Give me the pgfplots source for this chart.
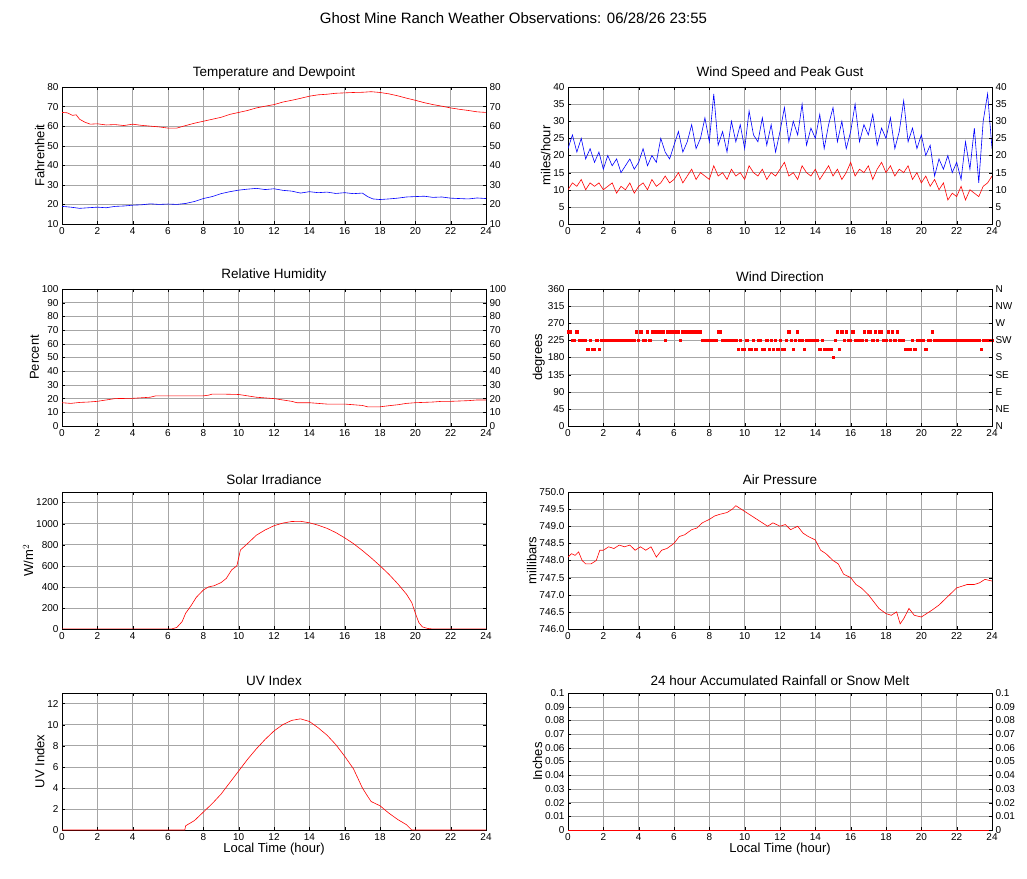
\documentclass[border=0pt]{standalone}
\usepackage{pgfplots}
\pgfplotsset{compat=1.18}
\usepackage{fontspec}
\setmainfont{Liberation Sans}
\begin{document}
\begin{tikzpicture}
\path[use as bounding box] (0pt,0pt) rectangle (1027pt,878pt);
\node[font=\fontsize{15}{18}\selectfont] at (513.5pt,860pt) {Ghost Mine Ranch Weather Observations: 06/28/26 23:55};
\pgfplotsset{
 /pgf/number format/assume math mode=true,
 /pgf/number format/1000 sep={},
 panel/.style={scale only axis, width=424pt, height=137pt, anchor=south west,
  xmin=0,xmax=24, xtick={0,2,...,24}, grid=major, major grid style={gray!70},
  tick label style={font=\fontsize{10}{12}\selectfont}, tick style={black}, major tick length=3pt,
  title style={font=\fontsize{13.5}{16}\selectfont, yshift=-2pt},
  ylabel style={font=\fontsize{13}{15}\selectfont, yshift=-4pt},
  xlabel style={font=\fontsize{13}{15}\selectfont, yshift=4pt},
  every axis plot/.append style={line width=0.6pt}, axis line style={black}},
 rpanel/.style={scale only axis, width=424pt, height=137pt, anchor=south west,
  xmin=0,xmax=24, axis y line*=right, axis x line=none, tick style={black},
  tick label style={font=\fontsize{10}{12}\selectfont}, major tick length=3pt}
}
% Temperature
\begin{axis}[panel, at={(62pt,654pt)}, ymin=10,ymax=80, ytick={10,20,...,80}, title={Temperature and Dewpoint}, ylabel={Fahrenheit}]
\addplot[red] coordinates {(0,67)(0.3,66.8)(0.6,65.5)(0.8,65.8)(1,63.5)(1.3,62)(1.6,61)(2,61.2)(2.5,60.6)(3,60.8)(3.5,60.3)(4,61)(4.5,60.4)(5,60)(5.5,59.6)(6,59)(6.5,59)(7,60.3)(7.5,61.5)(8,62.5)(8.5,63.5)(9,64.5)(9.5,66)(10,67)(10.5,68)(11,69.3)(11.5,70.2)(12,71)(12.5,72.3)(13,73.2)(13.5,74.2)(14,75.3)(14.5,76)(15,76.3)(15.5,76.8)(16,77)(16.5,77.2)(17,77.3)(17.5,77.6)(18,77.2)(18.5,76.5)(19,75.5)(19.5,74.3)(20,73.2)(20.5,72)(21,71)(21.5,70.2)(22,69.3)(22.5,68.6)(23,68)(23.5,67.3)(24,67)};
\addplot[blue] coordinates {(0,19)(0.5,18.6)(1,18)(1.5,18.3)(2,18.6)(2.5,18.3)(3,19)(3.5,19.2)(4,19.6)(4.5,19.8)(5,20.3)(5.5,20)(6,20.2)(6.5,20)(7,20.5)(7.5,21.5)(8,23)(8.5,24)(9,25.5)(9.5,26.5)(10,27.3)(10.5,27.8)(11,28.2)(11.5,27.6)(12,28)(12.5,27.2)(13,26.8)(13.5,25.8)(14,26.5)(14.5,26)(15,26.3)(15.5,25.6)(16,26)(16.5,25.5)(17,25.8)(17.3,24)(17.6,22.8)(18,22.5)(18.5,22.8)(19,23.2)(19.5,23.8)(20,24)(20.5,24.2)(21,23.6)(21.5,23.8)(22,23.2)(22.5,23)(23,22.8)(23.5,23.3)(24,23)};
\end{axis}
\begin{axis}[rpanel, at={(62pt,654pt)}, ymin=10,ymax=80, ytick={10,20,...,80}]
\end{axis}
% Wind
\begin{axis}[panel, at={(568pt,654pt)}, ymin=0,ymax=40, ytick={0,5,...,40}, title={Wind Speed and Peak Gust}, ylabel={miles/hour}]
\addplot[blue] table[x expr=\coordindex/4, y index=0, header=false] {
22
26
21
25
19
22
18
21
16
20
17
19
15
17
19
16
18
22
17
20
18
25
21
19
23
27
21
24
29
22
25
31
24
38
23
27
21
30
24
29
22
33
26
24
31
23
29
21
27
34
24
30
26
35
23
28
25
32
22
29
34
24
30
22
27
35
24
29
26
32
23
28
25
31
22
27
36
24
28
22
26
20
23
14
19
16
20
15
18
13
24
16
28
12
30
38
22
};
\addplot[red] table[x expr=\coordindex/4, y index=0, header=false] {
10
12
11
13
10
12
11
12
10
11
12
9
11
10
12
9
11
12
10
13
11
12
14
12
13
15
12
14
16
13
15
14
13
17
14
15
13
16
14
15
13
17
15
14
16
13
15
14
16
18
14
15
13
17
15
14
16
13
15
17
14
16
13
15
18
14
16
15
17
13
16
18
15
17
14
16
15
17
13
15
12
14
11
13
10
12
7
9
8
11
7
10
9
8
11
12
14
};
\end{axis}
\begin{axis}[rpanel, at={(568pt,654pt)}, ymin=0,ymax=40, ytick={0,5,...,40}]
\end{axis}
% Humidity
\begin{axis}[panel, at={(62pt,452pt)}, ymin=0,ymax=100, ytick={0,10,...,100}, title={Relative Humidity}, ylabel={Percent}]
\addplot[red] coordinates {(0,17)(0.5,16.5)(1,17.2)(1.5,17.5)(2,18)(2.5,19)(3,20)(4,20.2)(5,21)(5.3,22)(6,22)(7,22)(8,22)(8.3,22.5)(8.5,23.3)(9,23.3)(10,23)(10.5,22)(11,21)(11.5,20.5)(12,20)(12.5,19)(13,18)(13.3,17)(14,17)(14.5,16.5)(15,16)(16,16)(16.5,15.5)(17,15)(17.3,14)(18,14)(18.5,14.8)(19,15.5)(19.5,16.5)(20,17)(21,17.5)(21.5,18)(22,18)(23,18.5)(23.5,19)(24,19)};
\end{axis}
\begin{axis}[rpanel, at={(62pt,452pt)}, ymin=0,ymax=100, ytick={0,10,...,100}]
\end{axis}
% Wind direction
\begin{axis}[panel, at={(568pt,452pt)}, ymin=0,ymax=360, ytick={0,45,...,360}, title={Wind Direction}, ylabel={degrees}]
\addplot[red, only marks, mark=square*, mark size=1.1pt] table[x expr=\coordindex/8, y expr=225+22.5*\thisrowno{0}, header=false] {
1
1
0
0
1
0
0
0
0
-1
0
-1
-1
0
-1
0
0
0
0
0
0
0
0
0
0
0
0
0
0
0
0
1
0
1
0
0
1
0
1
1
1
1
1
1
0
1
1
1
1
1
1
0
1
1
1
1
1
1
1
1
1
0
0
0
0
0
0
0
1
1
0
0
0
0
0
0
0
-1
0
-1
-1
0
-1
-1
0
-1
0
0
-1
-1
0
-1
0
-1
0
-1
0
-1
-1
0
1
0
-1
0
1
0
0
-1
0
0
0
0
0
0
-1
0
-1
-1
-1
-1
-2
0
1
-1
1
0
1
0
0
1
0
0
0
0
1
0
1
1
0
1
0
1
1
0
0
1
0
1
0
1
0
0
0
-1
-1
-1
0
-1
0
0
0
0
-1
0
0
1
0
0
0
0
0
0
0
0
0
0
0
0
0
0
0
0
0
0
0
0
0
-1
0
0
0
0
0
};
\end{axis}
\begin{axis}[rpanel, at={(568pt,452pt)}, ymin=0,ymax=360, ytick={0,45,...,360}, yticklabels={N,NE,E,SE,S,SW,W,NW,N}]
\end{axis}
% Solar
\begin{axis}[panel, at={(62pt,249pt)}, ymin=0,ymax=1300, ytick={0,200,...,1200}, title={Solar Irradiance}, ylabel={W/m$^2$}]
\addplot[red] coordinates {(0,0)(6.2,0)(6.5,15)(6.8,70)(7,150)(7.3,220)(7.6,300)(8,370)(8.3,400)(8.6,410)(9,440)(9.3,480)(9.6,560)(9.9,600)(10.1,750)(10.5,810)(11,890)(11.5,940)(12,980)(12.5,1005)(13,1020)(13.5,1022)(14,1008)(14.5,985)(15,955)(15.5,915)(16,865)(16.5,810)(17,745)(17.5,675)(18,600)(18.5,520)(19,430)(19.5,330)(19.8,250)(20,150)(20.2,60)(20.4,20)(20.7,5)(21,0)(24,0)};
\end{axis}
% Pressure
\begin{axis}[panel, at={(568pt,249pt)}, ymin=746,ymax=750, ytick={746,746.5,...,750}, yticklabel style={/pgf/number format/.cd,fixed,fixed zerofill,precision=1}, title={Air Pressure}, ylabel={millibars}]
\addplot[red] coordinates {(0,748.1)(0.2,748.2)(0.4,748.15)(0.6,748.25)(0.8,748.0)(1,747.9)(1.3,747.9)(1.6,748.0)(1.8,748.3)(2,748.3)(2.3,748.4)(2.6,748.35)(2.9,748.45)(3.2,748.4)(3.5,748.45)(3.8,748.3)(4.1,748.4)(4.4,748.3)(4.7,748.4)(5,748.1)(5.3,748.3)(5.6,748.35)(6,748.5)(6.3,748.7)(6.6,748.75)(7,748.9)(7.3,748.95)(7.6,749.1)(8,749.2)(8.3,749.3)(8.6,749.35)(9,749.4)(9.3,749.5)(9.5,749.6)(9.8,749.5)(10.1,749.4)(10.4,749.3)(10.7,749.2)(11,749.1)(11.3,749.0)(11.6,749.1)(12,749.0)(12.3,749.05)(12.6,748.9)(13,749.0)(13.3,748.8)(13.6,748.7)(14,748.6)(14.3,748.3)(14.6,748.2)(15,748.0)(15.3,747.9)(15.6,747.6)(16,747.5)(16.3,747.3)(16.6,747.2)(17,747.0)(17.3,746.8)(17.6,746.6)(18,746.45)(18.3,746.4)(18.6,746.5)(18.8,746.15)(19,746.3)(19.3,746.6)(19.6,746.4)(20,746.35)(20.3,746.45)(20.6,746.55)(21,746.7)(21.3,746.85)(21.6,747.0)(22,747.2)(22.3,747.25)(22.6,747.3)(23,747.3)(23.3,747.35)(23.6,747.45)(24,747.4)};
\end{axis}
% UV
\begin{axis}[panel, at={(62pt,48pt)}, ymin=0,ymax=13, ytick={0,2,...,12}, title={UV Index}, ylabel={UV Index}, xlabel={Local Time (hour)}]
\addplot[red] coordinates {(0,0)(6.95,0)(7,0.4)(7.5,0.9)(8,1.7)(8.5,2.5)(9,3.4)(9.5,4.5)(10,5.6)(10.5,6.7)(11,7.7)(11.5,8.6)(12,9.4)(12.5,10)(13,10.4)(13.5,10.55)(14,10.3)(14.5,9.7)(15,9)(15.5,8.1)(16,7)(16.5,5.8)(17,4)(17.3,3.2)(17.5,2.7)(18,2.3)(18.5,1.6)(19,1)(19.5,0.5)(19.8,0)(24,0)};
\end{axis}
% Rain
\begin{axis}[panel, at={(568pt,48pt)}, ymin=0,ymax=0.1, ytick={0,0.01,...,0.1}, yticklabel style={/pgf/number format/.cd,fixed,precision=2}, title={24 hour Accumulated Rainfall or Snow Melt}, ylabel={Inches}, xlabel={Local Time (hour)}]
\addplot[red] coordinates {(0,0)(24,0)};
\end{axis}
\begin{axis}[rpanel, at={(568pt,48pt)}, ymin=0,ymax=0.1, ytick={0,0.01,...,0.1}, yticklabel style={/pgf/number format/.cd,fixed,precision=2}]
\end{axis}
\end{tikzpicture}
\end{document}
